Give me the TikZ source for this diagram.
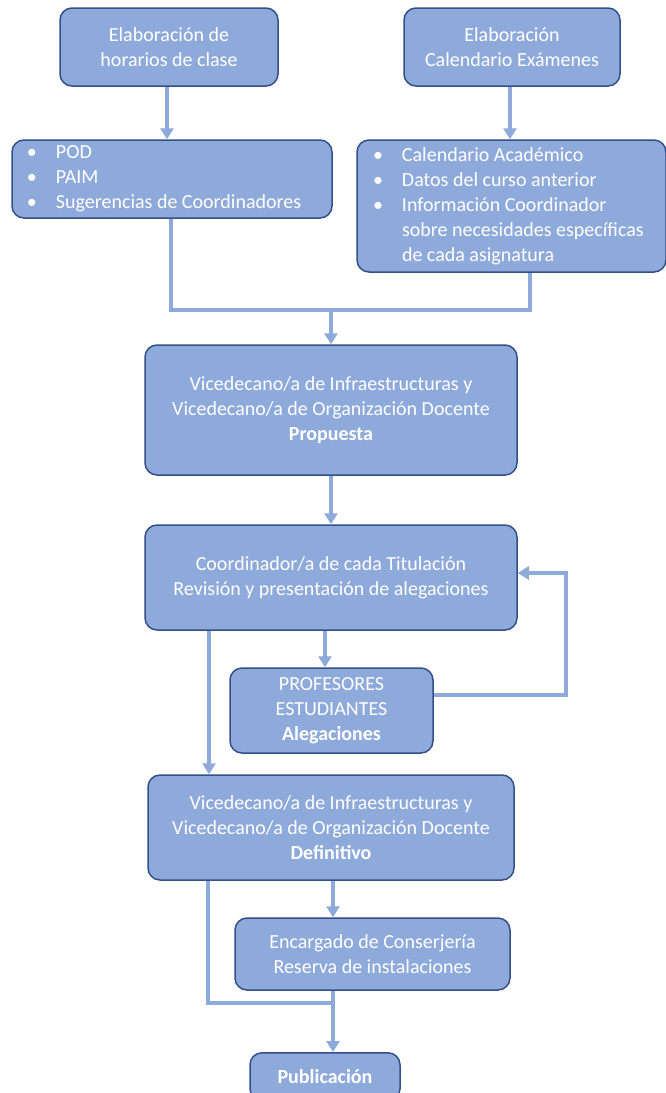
\documentclass[tikz,border=0pt]{standalone}
\usepackage{fontspec}
\setmainfont{Carlito}
\usetikzlibrary{arrows.meta}
\definecolor{boxfill}{HTML}{8EAADB}
\definecolor{boxline}{HTML}{34508A}
\definecolor{arrcol}{HTML}{8EAADB}
\newcommand{\bitem}{\makebox[29pt][l]{•}}
\newcommand{\bcont}{\hspace*{29pt}}
\begin{document}
\begin{tikzpicture}[x=1pt,y=-1pt,
  box/.style={draw=boxline, line width=1.5pt, fill=boxfill, rounded corners=12pt,
    text=white, font=\fontsize{20}{25}\selectfont, align=center, inner sep=0pt},
  conn/.style={draw=arrcol, line width=4pt},
  arr/.style={conn, -{Triangle[width=13pt,length=11pt]}}]
\useasboundingbox[fill=white] (0,0) rectangle (666,1093);

\node[box, minimum width=218pt, minimum height=78pt] (b1) at (169,47)
  {Elaboración de\\horarios de clase};
\node[box, minimum width=216pt, minimum height=78pt] (b2) at (512,47)
  {Elaboración\\Calendario Exámenes};
\node[box, minimum width=320pt, minimum height=78pt, align=flush left,
  inner xsep=15pt, text width=290pt] (b3) at (172,179)
  {\bitem POD\\\bitem PAIM\\\bitem Sugerencias de Coordinadores};
\node[box, minimum width=309pt, minimum height=132pt, align=flush left,
  inner xsep=16pt, text width=277pt] (b4) at (511.5,206)
  {\bitem Calendario Académico\\\bitem Datos del curso anterior\\\bitem Información Coordinador\\\bcont sobre necesidades específicas\\\bcont de cada asignatura};
\node[box, minimum width=372pt, minimum height=130pt] (b5) at (331,410)
  {Vicedecano/a de Infraestructuras y\\Vicedecano/a de Organización Docente\\\textbf{Propuesta}};
\node[box, minimum width=372pt, minimum height=105pt] (b6) at (331,577.5)
  {Coordinador/a de cada Titulación\\Revisión y presentación de alegaciones};
\node[box, minimum width=203pt, minimum height=85pt] (b7) at (331.5,710.5)
  {PROFESORES\\ESTUDIANTES\\\textbf{Alegaciones}};
\node[box, minimum width=366pt, minimum height=105pt] (b8) at (331,827.5)
  {Vicedecano/a de Infraestructuras y\\Vicedecano/a de Organización Docente\\\textbf{Definitivo}};
\node[box, minimum width=275pt, minimum height=72pt] (b9) at (372.5,954)
  {Encargado de Conserjería\\Reserva de instalaciones};
\node[box, minimum width=150pt, minimum height=48pt, anchor=north] (b10) at (325,1052)
  {\textbf{Publicación}};

\coordinate (j1) at (331,310);
\coordinate (j2) at (333,1003);

\draw[arr] ([xshift=-2pt]b1.south) -- ([xshift=-2pt]b1.south |- b3.north);
\draw[arr] ([xshift=-2pt]b2.south) -- ([xshift=-2pt]b2.south |- b4.north);
\draw[conn] ([xshift=-1pt]b3.south) |- (j1);
\draw[conn] ([xshift=18.5pt]b4.south) |- (j1);
\draw[arr] (j1) -- (j1 |- b5.north);
\draw[arr] (b5.south) -- (b6.north);
\draw[arr] ([xshift=-6pt]b6.south) -- ([xshift=-6pt]b6.south |- b7.north);
\draw[arr] ([yshift=15.5pt]b7.east) -- ++(132,0) |- ([yshift=4.5pt]b6.east);
\draw[arr] ([xshift=-122pt]b6.south) -- ([xshift=-122pt]b6.south |- b8.north);
\draw[arr] ([xshift=2pt]b8.south) -- ([xshift=2pt]b8.south |- b9.north);
\draw[conn] ([xshift=-123pt]b8.south) |- (j2);
\draw[conn] (j2 |- b9.south) -- (j2);
\draw[arr] (j2) -- (j2 |- b10.north);
\end{tikzpicture}
\end{document}
